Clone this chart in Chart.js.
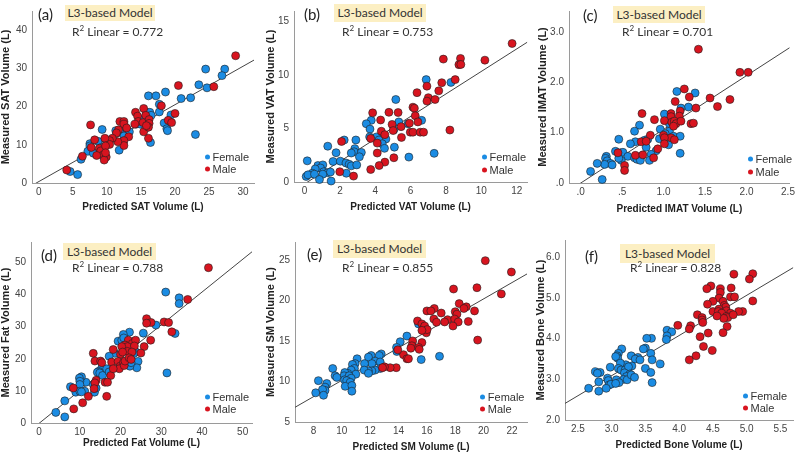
<!DOCTYPE html>
<html>
<head>
<meta charset="utf-8">
<script src="https://cdn.jsdelivr.net/npm/chart.js@4/dist/chart.umd.min.js"></script>
<style>
  body { margin: 0; background: #fff; }
  #fig { position: relative; width: 798px; height: 455px; overflow: hidden; background: #fff; }
  #fig canvas { position: absolute; }
  .tag { position: absolute; font: 15px Lato, 'Open Sans', sans-serif; color: #222; line-height: 1; transform: translateY(-50%); }
  .model { position: absolute; background: #fcefc3; font: 12px Lato, 'Open Sans', sans-serif; color: #333; text-align: center; }
  .r2 { position: absolute; font: 12px Lato, 'Open Sans', sans-serif; color: #333; line-height: 1; transform: translateY(-50%); white-space: nowrap; }
  .r2 sup { font-size: 8px; vertical-align: 5px; line-height: 0; }
  .leg { position: absolute; font: 11px 'Liberation Sans', Arial, sans-serif; color: #333; line-height: 1; transform: translateY(-50%); white-space: nowrap; }
  .leg span { display: inline-block; width: 5px; height: 5px; border-radius: 50%; margin-right: 3px; vertical-align: 1px; }
</style>
</head>
<body>
<div id="fig"></div>
<script>
// Values, [predicted, measured] per subject
const satFemale = [[24.5,29.8],[27.3,29.8],[26.9,28.1],[23.5,25.7],[24.7,24.9],[20.9,22.1],[22.3,22.3],[16.1,22.8],[17.2,22.8],[18.6,23.8],[17.7,20.6],[17.7,18.6],[19.4,17.8],[18.4,15.7],[18.8,14.2],[18.9,13.7],[23.0,12.7],[16.4,10.6],[15.8,18.5],[16.3,18.5],[16.5,17.7],[14.9,16.6],[15.8,15.8],[14.3,15.4],[16.0,14.6],[14.9,15.4],[11.3,13.7],[12.9,14.2],[11.9,13.4],[13.3,13.4],[12.5,12.3],[12.4,10.5],[11.8,8.6],[9.9,11.1],[9.3,14.0],[8.7,10.9],[7.5,10.3],[7.5,9.7],[7.2,8.3],[8.0,7.8],[9.2,9.3],[9.5,7.0],[6.2,6.2],[4.6,3.0],[5.7,2.2]];
const satMale = [[28.9,33.3],[20.5,25.5],[25.7,25.2],[18.0,20.2],[20.0,18.2],[19.0,16.4],[19.5,15.8],[16.1,11.7],[14.2,18.5],[15.4,19.5],[15.7,17.7],[14.5,17.5],[14.6,16.1],[15.3,15.8],[16.2,16.6],[16.2,15.6],[14.1,15.4],[15.4,13.4],[16.1,14.6],[15.8,15.0],[11.9,16.1],[12.5,16.1],[12.5,15.4],[11.7,13.9],[11.4,13.1],[12.9,14.4],[13.2,12.1],[12.5,11.1],[12.5,9.8],[11.6,10.8],[10.8,11.7],[10.4,11.1],[10.4,10.1],[9.7,11.7],[8.2,11.3],[7.6,15.2],[7.7,9.3],[8.9,9.1],[9.1,8.4],[9.8,9.7],[9.5,7.4],[9.9,6.8],[9.6,6.0],[8.5,7.2],[6.4,7.0],[9.8,7.9],[4.1,3.4]];

const vatFemale = [[8.28,9.32],[6.88,9.58],[5.16,7.72],[6.62,5.77],[5.85,5.45],[5.33,5.62],[3.77,5.77],[3.49,5.45],[3.7,4.95],[5.05,4.89],[4.6,4.02],[4.07,4.22],[3.68,4.22],[4.21,3.93],[4.39,3.58],[4.52,3.15],[5.08,3.26],[5.9,2.33],[7.33,2.68],[2.24,3.93],[2.9,3.93],[1.31,3.35],[2.84,3.12],[2.8,2.83],[3.21,2.77],[2.64,2.71],[1.78,2.74],[3.1,2.36],[0.15,1.98],[1.61,1.92],[2.02,1.95],[2.34,1.78],[2.52,1.66],[2.64,1.51],[2.95,1.6],[0.75,1.54],[1.03,1.6],[0.9,1.31],[0.6,1.22],[0.43,0.82],[0.09,0.52],[0.19,0.67],[0.56,0.73],[1.08,0.96],[1.31,0.87],[1.46,0.93],[1.03,0.73],[0.84,0.23],[1.5,0.09],[2.36,0.82]];
const vatMale = [[11.74,12.96],[10.2,11.4],[7.85,11.5],[8.82,11.56],[8.73,10.98],[8.84,11.0],[8.52,9.58],[7.76,9.29],[6.92,8.97],[7.59,8.53],[7.0,7.89],[6.92,7.57],[7.38,7.72],[6.36,8.36],[6.13,7.0],[6.21,6.9],[3.85,6.47],[5.29,6.5],[4.77,6.52],[6.26,6.2],[6.41,5.62],[5.93,5.5],[4.95,5.39],[4.3,5.8],[5.46,5.18],[5.01,4.81],[4.34,4.75],[4.54,4.43],[5.98,4.66],[6.13,4.66],[6.54,4.66],[6.73,4.66],[8.22,4.86],[5.48,4.17],[3.74,4.08],[4.11,3.64],[4.11,2.71],[5.05,2.27],[4.54,1.86],[4.22,1.54],[3.74,1.17],[2.09,3.79],[1.99,0.96],[2.77,0.55]];

const imatFemale = [[1.16,1.82],[1.38,1.79],[1.30,1.51],[1.21,1.49],[1.01,1.37],[1.07,1.18],[0.71,1.15],[0.65,1.03],[0.96,1.07],[1.07,1.03],[1.02,0.98],[1.12,0.93],[1.2,0.93],[0.95,0.88],[1.06,0.76],[0.46,0.87],[0.77,0.85],[0.81,0.87],[0.66,0.82],[0.6,0.78],[0.79,0.71],[0.91,0.64],[1.2,0.59],[0.42,0.63],[0.48,0.6],[0.51,0.61],[0.57,0.53],[0.65,0.5],[0.73,0.53],[0.68,0.47],[0.85,0.57],[0.72,0.45],[0.83,0.45],[0.31,0.53],[0.3,0.49],[0.32,0.44],[0.36,0.39],[0.29,0.37],[0.38,0.36],[0.49,0.45],[0.46,0.49],[0.2,0.39],[0.12,0.23],[0.26,0.07]];
const imatMale = [[1.42,2.66],[1.92,2.2],[2.02,2.2],[1.25,1.87],[1.14,1.62],[1.31,1.71],[1.56,1.69],[1.8,1.66],[1.65,1.52],[1.39,1.49],[1.2,1.43],[1.09,1.38],[1.09,1.32],[1.19,1.33],[0.74,1.38],[1.01,1.24],[0.89,1.26],[1.1,1.21],[1.13,1.23],[1.15,1.18],[1.21,1.23],[1.12,1.13],[1.33,1.18],[1.36,1.19],[1.0,0.95],[0.84,0.95],[1.09,0.9],[1.13,0.86],[1.01,0.9],[1.01,0.78],[0.73,0.82],[0.79,0.83],[0.93,0.68],[0.45,0.6],[0.66,0.55],[0.75,0.56],[0.88,0.5],[0.53,0.35],[0.53,0.25]];

const fatFemale = [[31.1,40.8],[34.4,39.0],[34.4,37.2],[28.7,30.5],[25.6,28.0],[33.4,27.9],[24.3,19.2],[24.0,17.2],[22.2,28.3],[20.7,27.6],[19.4,25.5],[20.3,25.8],[20.8,26.5],[22.1,25.2],[23.4,25.5],[22.7,23.8],[23.2,22.9],[22.3,23.1],[21.9,22.6],[23.8,22.1],[23.2,21.6],[18.6,21.7],[17.2,20.8],[15.4,17.2],[14.6,16.1],[14.3,15.8],[14.9,15.6],[15.6,14.8],[16.6,16.9],[17.2,15.9],[20.3,18.8],[21.5,18.8],[22.3,17.7],[22.6,18.8],[31.4,15.6],[13.3,12.0],[13.6,9.6],[14.0,10.9],[11.5,12.7],[10.4,14.4],[9.9,14.0],[10.0,13.0],[10.0,12.0],[9.0,9.6],[10.0,9.9],[11.2,9.9],[10.4,9.7],[7.7,11.3],[6.3,6.9],[4.1,3.3],[6.3,1.9]];
const fatMale = [[41.6,48.4],[36.5,38.5],[26.4,32.5],[27.5,31.3],[26.4,31.1],[30.7,31.5],[31.8,31.3],[32.6,28.4],[27.4,25.8],[25.8,23.8],[25.0,21.8],[21.9,25.8],[22.9,24.8],[23.7,25.8],[21.1,24.3],[21.7,23.8],[20.3,23.8],[23.4,24.0],[21.7,22.3],[22.8,22.1],[20.0,21.4],[20.5,22.1],[18.2,22.9],[13.3,21.7],[13.7,19.3],[15.1,19.3],[15.4,18.8],[17.6,14.8],[17.8,19.0],[19.4,19.2],[19.9,17.7],[20.7,18.8],[19.7,16.9],[20.9,17.9],[21.1,19.3],[18.2,16.9],[22.1,20.3],[22.6,19.8],[16.2,12.7],[16.8,12.7],[16.6,8.3],[14.0,13.3],[13.7,12.5],[13.5,10.7],[12.1,8.3],[8.4,10.9],[10.7,6.3],[8.5,4.4]];

const smFemale = [[15.41,17.1],[14.59,15.6],[14.12,14.9],[15.6,12.7],[16.89,13.1],[13.86,14.2],[13.88,13.7],[12.78,13.4],[12.64,13.2],[12.07,13.2],[11.88,13.0],[12.35,12.5],[12.12,12.2],[11.6,12.2],[12.71,12.4],[12.71,11.6],[12.35,11.4],[12.12,11.3],[11.88,11.3],[11.58,11.4],[11.88,11.0],[11.08,12.8],[10.94,12.2],[10.75,12.1],[10.89,11.6],[10.66,11.4],[10.42,11.0],[10.99,10.9],[10.21,11.1],[10.16,10.7],[10.52,10.7],[10.19,10.2],[10.66,10.4],[10.35,10.1],[10.59,9.9],[10.24,9.4],[10.71,9.5],[10.71,8.8],[9.36,11.6],[9.53,10.7],[9.65,10.5],[8.94,9.75],[8.82,9.3],[8.82,8.9],[8.64,9.0],[8.35,10.1],[8.16,8.6],[8.71,8.3]];
const smMale = [[20.12,24.9],[21.96,23.5],[21.25,20.8],[19.53,21.56],[17.88,21.4],[18.28,19.6],[16.52,19.0],[18.78,19.2],[18.61,19.0],[16.0,18.7],[16.28,18.7],[17.01,18.44],[18.0,18.6],[19.36,18.7],[18.12,18.3],[17.46,17.62],[17.25,17.34],[17.96,17.7],[16.49,17.7],[16.68,17.3],[18.21,17.34],[18.92,17.4],[17.84,16.84],[15.34,17.46],[15.65,17.1],[15.81,16.6],[15.84,16.84],[15.96,16.0],[16.02,16.4],[15.65,16.3],[19.58,15.1],[15.0,15.0],[15.65,14.8],[14.94,14.4],[15.41,14.2],[14.87,14.1],[15.46,13.96],[14.35,13.3],[14.59,12.8],[14.7,12.8],[13.95,13.9],[13.84,11.7],[13.41,11.7],[13.01,11.8],[12.87,11.7]];

const boneFemale = [[3.82,4.21],[3.89,4.17],[3.82,4.07],[3.81,3.98],[3.59,4.01],[3.52,4.01],[3.5,3.77],[3.47,3.75],[3.58,3.64],[3.15,3.75],[3.29,3.58],[3.39,3.54],[3.35,3.5],[3.42,3.48],[3.1,3.64],[3.08,3.58],[3.09,3.52],[3.06,3.56],[3.6,3.48],[3.72,3.38],[3.5,3.27],[3.58,3.17],[3.6,2.92],[3.3,3.33],[3.21,3.36],[3.13,3.4],[3.1,3.27],[3.14,3.23],[3.2,3.23],[3.25,3.31],[3.19,3.16],[3.27,3.13],[3.22,3.07],[3.18,3.0],[3.23,2.99],[3.07,2.99],[3.11,2.92],[3.29,3.11],[3.34,3.05],[2.98,3.3],[2.83,3.17],[2.76,3.19],[2.79,3.15],[2.94,3.03],[2.95,2.97],[2.81,2.94],[2.96,2.86],[2.99,2.88],[2.92,2.78],[2.66,2.78],[2.81,2.71],[3.06,2.9]];
const boneMale = [[5.09,5.6],[4.81,5.59],[5.04,5.47],[4.47,5.3],[4.41,5.23],[4.61,5.23],[4.61,5.14],[4.77,5.25],[4.76,5.03],[4.82,5.03],[4.59,5.0],[4.5,4.92],[4.65,4.92],[4.42,4.85],[5.09,4.93],[4.67,4.82],[4.69,4.78],[4.5,4.67],[4.59,4.73],[4.7,4.69],[4.58,4.67],[4.94,4.67],[4.88,4.67],[4.63,4.63],[4.76,4.63],[4.7,4.55],[4.72,4.52],[4.66,4.5],[4.56,4.56],[4.8,4.59],[4.27,4.59],[4.34,4.52],[4.34,4.46],[4.35,4.4],[4.71,4.3],[4.17,4.32],[4.15,4.24],[3.98,4.33],[4.43,4.14],[4.65,4.15],[4.31,4.05],[4.36,3.81],[4.49,3.71],[4.25,3.58],[4.15,3.48]];

// Tick labels and annotation texts
const satXTicks = [0, 5, 10, 15, 20, 25, 30], satYTicks = [0, 10, 20, 30, 40];
const vatXTicks = [0, 2, 4, 6, 8, 10, 12], vatYTicks = [0, 5, 10, 15];
const imatXTicks = [0, 0.5, 1, 1.5, 2, 2.5], imatYTicks = [0, 1, 2, 3];
const fatXTicks = [0, 10, 20, 30, 40, 50], fatYTicks = [0, 10, 20, 30, 40, 50];
const smXTicks = [8, 10, 12, 14, 16, 18, 20, 22], smYTicks = [5, 10, 15, 20, 25];
const boneXTicks = [2.5, 3, 3.5, 4, 4.5, 5, 5.5], boneYTicks = [2, 3, 4, 5, 6];
const panelTags = ['(a)', '(b)', '(c)', '(d)', '(e)', '(f)'];
const r2Values = ['0.772', '0.753', '0.701', '0.788', '0.855', '0.828'];
const compartments = ['SAT', 'VAT', 'IMAT', 'Fat', 'SM', 'Bone'];

const BLUE = '#1b8ce3';
const RED = '#d8141f';

const plain = v => String(v);
const oneDec = v => v.toFixed(1);
const spss = v => v < 1 ? v.toFixed(1).replace(/^0/, '') : v.toFixed(1);

// layout of each panel: canvas box, axis box sizes and text placement (page px)
const panels = [
  { female: satFemale, male: satMale, xTicks: satXTicks, yTicks: satYTicks, fx: plain, fy: plain,
    x: [-1, 31.6], y: [0, 45], box: [0, 0, 262, 215], yW: 32, xH: 32, padR: 8, padT: 0, tPad: 2,
    tag: [38, 14], model: [65, 5, 90, 16], r2: [72, 31.7], leg: [207, 156.5, 168.5] },
  { female: vatFemale, male: vatMale, xTicks: vatXTicks, yTicks: vatYTicks, fx: plain, fy: plain,
    x: [-0.6, 12.6], y: [0, 16], box: [265, 0, 267, 215], yW: 29, xH: 33, padR: 2, padT: 0, tPad: 2,
    tag: [304, 13.5], model: [334, 4, 92, 18], r2: [342, 31.7], leg: [484, 156.7, 170] },
  { female: imatFemale, male: imatMale, xTicks: imatXTicks, yTicks: imatYTicks, fx: spss, fy: spss,
    x: [-0.14, 2.52], y: [0, 3.42], box: [537, 0, 261, 215], yW: 32, xH: 32, padR: 1, padT: 0, tPad: 0,
    tag: [583, 15], model: [613, 6, 92, 17], r2: [622, 31.7], leg: [750, 159.3, 172] },
  { female: fatFemale, male: fatMale, xTicks: fatXTicks, yTicks: fatYTicks, fx: plain, fy: plain,
    x: [-2, 52.3], y: [0, 56.4], box: [0, 225, 262, 230], yW: 31, xH: 32, padR: 10, padT: 17, tPad: 6,
    tag: [41, 255], model: [63, 243, 93, 17], r2: [72, 268], leg: [207, 396.7, 409] },
  { female: smFemale, male: smMale, xTicks: smXTicks, yTicks: smYTicks, fx: plain, fy: plain,
    x: [6.7, 23.06], y: [5, 27.2], box: [265, 225, 267, 230], yW: 30, xH: 33, padR: 5, padT: 17, tPad: 2,
    tag: [307, 254], model: [333, 240, 93, 18], r2: [342, 268], leg: [482.3, 396.7, 409] },
  { female: boneFemale, male: boneMale, xTicks: boneXTicks, yTicks: boneYTicks, fx: oneDec, fy: oneDec,
    x: [2.31, 5.69], y: [2, 6.43], box: [535, 225, 263, 230], yW: 30, xH: 35, padR: 1, padT: 15, tPad: 4,
    tag: [585, 255.7], model: [620, 244, 95, 19], r2: [630, 268], leg: [745, 395.7, 408.3] }
];

Chart.defaults.font.family = "'Liberation Sans', Arial, sans-serif";

// least squares fit of measured on predicted
function fitLine(pts) {
  let n = pts.length, sx = 0, sy = 0, sxx = 0, sxy = 0;
  pts.forEach(([x, y]) => { sx += x; sy += y; sxx += x * x; sxy += x * y; });
  const b = (n * sxy - sx * sy) / (n * sxx - sx * sx);
  return [(sy - b * sx) / n, b];
}

const toXY = pts => pts.map(([x, y]) => ({ x, y }));

function addDiv(cls, html, css) {
  const d = document.createElement('div');
  d.className = cls;
  d.innerHTML = html;
  Object.assign(d.style, css);
  fig.appendChild(d);
}

const fig = document.getElementById('fig');

panels.forEach((p, i) => {
  const [left, top, w, h] = p.box;
  const canvas = document.createElement('canvas');
  canvas.width = w;
  canvas.height = h;
  canvas.style.left = left + 'px';
  canvas.style.top = top + 'px';
  fig.appendChild(canvas);

  const [a, b] = fitLine(p.female.concat(p.male));
  const pointStyle = { pointRadius: 4, pointHoverRadius: 4, borderColor: 'rgba(30,30,30,0.85)', borderWidth: 0.7, clip: false };

  new Chart(canvas, {
    type: 'scatter',
    data: {
      datasets: [
        { label: 'Male', data: toXY(p.male), backgroundColor: RED, order: 1, ...pointStyle },
        { label: 'Female', data: toXY(p.female), backgroundColor: BLUE, order: 2, ...pointStyle },
        { type: 'line', label: 'Fit', showLine: true, pointRadius: 0, borderColor: '#444', borderWidth: 1, order: 3,
          data: [{ x: p.x[0], y: a + b * p.x[0] }, { x: p.x[1], y: a + b * p.x[1] }] }
      ]
    },
    options: {
      responsive: false,
      animation: false,
      layout: { padding: { left: 0, right: p.padR, top: p.padT, bottom: 0 } },
      plugins: { legend: { display: false }, tooltip: { enabled: false } },
      scales: {
        x: {
          type: 'linear', min: p.x[0], max: p.x[1],
          afterFit: s => { s.height = p.xH; },
          afterBuildTicks: s => { s.ticks = p.xTicks.map(v => ({ value: v })); },
          grid: { display: false, drawTicks: false },
          border: { display: true, color: '#9a9a9a', width: 1 },
          ticks: { padding: 3, color: '#444', font: { size: 10 }, maxRotation: 0, callback: v => p.fx(v) },
          title: { display: true, text: 'Predicted ' + compartments[i] + ' Volume (L)', color: '#222',
                   font: { size: 10, weight: 'bold' }, padding: { top: 0, bottom: p.tPad } }
        },
        y: {
          type: 'linear', min: p.y[0], max: p.y[1],
          afterFit: s => { s.width = p.yW; },
          afterBuildTicks: s => { s.ticks = p.yTicks.map(v => ({ value: v })); },
          grid: { display: false, drawTicks: false },
          border: { display: true, color: '#9a9a9a', width: 1 },
          ticks: { padding: 5, color: '#444', font: { size: 10 }, callback: v => p.fy(v) },
          title: { display: true, text: 'Measured ' + compartments[i] + ' Volume (L)', color: '#222',
                   font: { size: 11, weight: 'bold', lineHeight: 1 }, padding: { top: 0, bottom: 0 } }
        }
      }
    }
  });

  // panel annotations and legend
  addDiv('tag', panelTags[i], { left: p.tag[0] + 'px', top: p.tag[1] + 'px' });
  addDiv('model', 'L3-based Model', { left: p.model[0] + 'px', top: p.model[1] + 'px', width: p.model[2] + 'px',
    height: p.model[3] + 'px', lineHeight: p.model[3] + 'px' });
  addDiv('r2', 'R<sup>2</sup> Linear = ' + r2Values[i], { left: p.r2[0] + 'px', top: p.r2[1] + 'px' });
  addDiv('leg', '<span style="background:' + BLUE + '"></span>Female', { left: (p.leg[0] - 2.5) + 'px', top: p.leg[1] + 'px' });
  addDiv('leg', '<span style="background:' + RED + '"></span>Male', { left: (p.leg[0] - 2.5) + 'px', top: p.leg[2] + 'px' });
});
</script>
</body>
</html>
